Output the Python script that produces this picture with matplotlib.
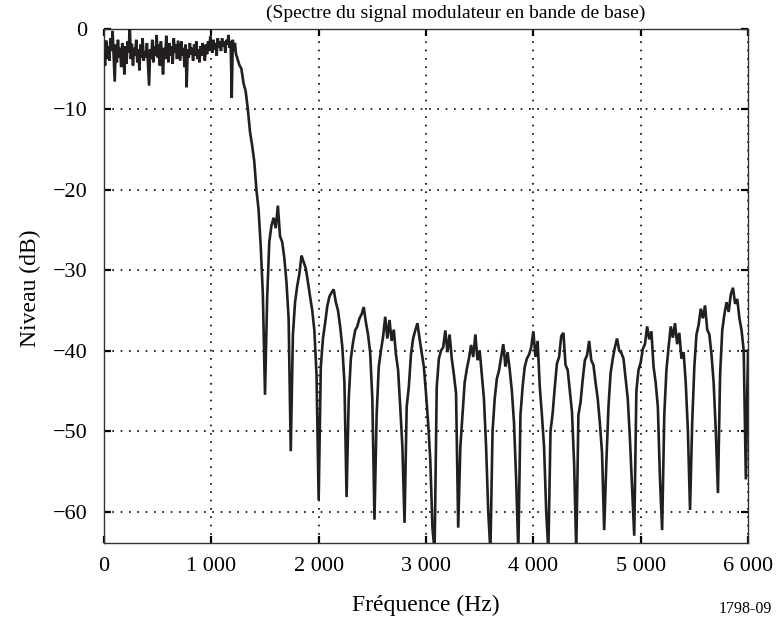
import numpy as np
import matplotlib
matplotlib.use("Agg")
import matplotlib.pyplot as plt
from matplotlib.ticker import FuncFormatter

# Pass band: sampled every 10 Hz from 0 to 1240 Hz (one row = 100 Hz)
passband_db = [
    -3.0, -4.6, -1.5, -3.8, -2.2, -4.0, -1.2, -2.8, -0.3, -3.5,
    -6.6, -2.0, -4.2, -1.4, -3.6, -2.4, -4.8, -1.8, -3.2, -5.7,
    -2.2, -4.4, -1.6, -3.0, 0.6, -3.8, -1.9, -4.6, -2.4, -3.4,
    -1.4, -4.2, -2.6, -5.2, -2.0, -3.6, -1.2, -4.0, -2.8, -3.6,
    -1.8, -4.4, -7.1, -2.6, -3.8, -1.4, -4.2, -2.2, -3.4, -0.8,
    -3.6, -2.0, -4.6, -1.6, -3.2, -5.7, -2.4, -3.8, -0.9, -2.8,
    -4.2, -1.8, -3.4, -2.2, -4.4, -1.2, -3.0, -2.0, -3.8, -1.5,
    -2.8, -4.0, -1.6, -3.4, -2.4, -4.8, -2.0, -7.3, -2.6, -3.6,
    -1.8, -3.2, -2.4, -4.0, -2.0, -3.4, -1.6, -3.8, -2.6, -4.2,
    -2.2, -3.4, -1.8, -3.0, -4.0, -2.0, -3.2, -1.6, -2.8, -1.0,
    -2.2, -3.0, -1.4, -2.6, -1.8, -3.4, -1.2, -2.4, -1.6, -2.8,
    -1.2, -2.2, -1.6, -3.0, -1.4, -2.0, -0.8, -2.4, -1.6, -8.6,
    -1.4, -2.8, -1.8, -3.2, -3.6,
]
passband_start, passband_stop, passband_step = 0, 1240, 10

# Roll-off and side lobes: sampled every 20 Hz from 1260 to 6000 Hz
stopband_db = [
    -4.5, -5.0, -6.8, -7.8, -10.0, -12.8, -14.5,
    -16.5, -20.0, -22.5, -27.0, -33.0, -45.5, -33.5, -26.5, -24.5, -23.5,
    -24.8, -22.0, -25.8, -26.5, -28.5, -31.5, -36.0, -52.5, -38.0, -34.0,
    -32.0, -30.5, -28.2, -29.0, -29.8, -31.5, -33.3, -35.0, -37.5, -43.0,
    -58.6, -42.0, -38.5, -36.6, -34.5, -33.3, -32.8, -32.4, -34.0, -35.0,
    -37.0, -39.5, -44.0, -58.2, -46.0, -41.0, -39.0, -37.5, -37.0, -36.0,
    -35.5, -34.6, -36.5, -38.0, -40.3, -46.0, -61.0, -48.0, -42.0, -40.0,
    -38.3, -35.8, -38.5, -36.2, -38.8, -37.4, -40.5, -42.4, -47.0, -52.0,
    -61.4, -47.0, -44.5, -40.5, -38.5, -37.5, -36.6, -38.5, -40.3, -42.0,
    -45.3, -49.0, -53.6, -62.0, -65.0, -44.5, -41.0, -40.0, -39.6, -37.5,
    -40.2, -38.0, -41.0, -43.0, -45.3, -62.0, -52.0, -48.0, -44.0, -42.3,
    -41.0, -39.3, -40.8, -38.0, -41.2, -40.0, -43.0, -46.0, -52.0, -60.0,
    -65.0, -50.0, -46.0, -43.5, -42.5, -40.8, -39.2, -42.0, -40.2, -42.4,
    -45.0, -49.0, -56.0, -65.0, -48.0, -44.5, -42.0, -41.0, -40.5, -39.6,
    -37.6, -40.8, -38.8, -44.5, -48.0, -52.0, -60.0, -65.0, -50.0, -47.8,
    -44.5, -41.6, -40.8, -38.2, -37.8, -41.8, -42.4, -45.0, -47.6, -54.0,
    -65.0, -48.0, -46.4, -43.6, -41.2, -40.6, -38.8, -41.2, -41.8, -44.0,
    -46.0, -49.0, -52.7, -62.3, -54.0, -47.0, -42.8, -41.0, -39.6, -38.5,
    -40.0, -40.3, -41.0, -43.5, -46.0, -51.0, -57.0, -63.0, -45.0, -42.4,
    -41.5, -39.8, -39.2, -37.0, -38.6, -37.6, -42.0, -44.0, -47.0, -56.0,
    -62.3, -48.0, -42.4, -39.6, -37.0, -38.4, -36.6, -39.2, -37.8, -41.0,
    -40.2, -44.0, -50.0, -59.8, -49.0, -42.0, -38.0, -36.8, -34.8, -36.0,
    -34.4, -37.4, -38.0, -40.5, -44.0, -50.0, -57.7, -43.0, -37.5, -35.5,
    -34.0, -35.2, -33.0, -32.2, -34.2, -33.6, -36.0, -37.5, -40.0, -56.0,
    -40.0,
]
stopband_start, stopband_stop, stopband_step = 1260, 6000, 20

x_ticks = [0, 1000, 2000, 3000, 4000, 5000, 6000]
y_ticks = [0, -10, -20, -30, -40, -50, -60]

title_text = "(Spectre du signal modulateur en bande de base)"
x_label = "Fréquence (Hz)"
y_label = "Niveau (dB)"
ref_code = "1798-09"

freq_hz = np.concatenate([
    np.arange(passband_start, passband_stop + passband_step, passband_step),
    np.arange(stopband_start, stopband_stop + stopband_step, stopband_step),
])
level_db = np.array(passband_db + stopband_db)
assert len(freq_hz) == len(level_db)

plt.rcParams["font.family"] = ["Liberation Serif", "DejaVu Serif"]

fig = plt.figure(figsize=(7.76, 6.21), dpi=100)
ax = fig.add_axes([104 / 776, 1 - 543 / 621, (748 - 104) / 776, (543 - 28.5) / 621])

ax.plot(freq_hz, level_db, color="#231f20", lw=1.9, solid_joinstyle="miter", zorder=3)

ax.set_xlim(0, 6000)
ax.set_ylim(-63.9, 0)
ax.set_xticks(x_ticks)
ax.set_yticks(y_ticks)
ax.xaxis.set_major_formatter(FuncFormatter(lambda v, p: f"{int(v):,}".replace(",", " ")))
ax.yaxis.set_major_formatter(FuncFormatter(lambda v, p: "0" if v == 0 else f"\u2212{abs(int(v))}"))

ax.grid(True, color="black", lw=1.2, linestyle=(0, (1, 4)))
ax.tick_params(direction="in", length=5, width=1.6, top=True, right=True,
               labelsize=16, colors="black")
ax.tick_params(axis="x", pad=10)
ax.tick_params(axis="y", pad=12)
for s in ax.spines.values():
    s.set_linewidth(1.0)
    s.set_color("#333333")

fig.text(456 / 776, 1 - 13 / 621, title_text, ha="center", va="center", fontsize=14)
fig.text(30 / 776, 1 - 288 / 621, y_label, ha="center", va="center", rotation=90, fontsize=17)
fig.text(426 / 776, 1 - 605 / 621, x_label, ha="center", va="center", fontsize=17)
fig.text(745 / 776, 1 - 609 / 621, ref_code, ha="center", va="center", fontsize=11.5)

fig.savefig("out.png", dpi=100)
